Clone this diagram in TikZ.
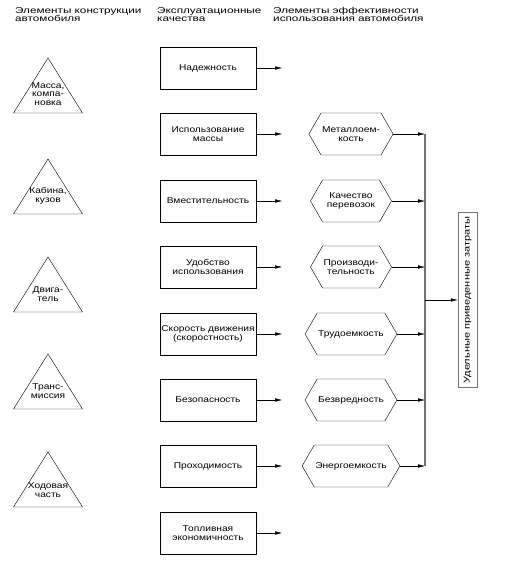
\documentclass[tikz,border=0pt]{standalone}
\usepackage{fontspec}
\setmainfont{Liberation Sans}[FakeStretch=1.2]
\newfontfamily\headfont{Liberation Sans}[FakeStretch=1.38]
\newfontfamily\costfont{Liberation Sans}[FakeStretch=1.3]
\usepackage{xcolor}
\usetikzlibrary{shapes.symbols,arrows.meta}
\colorlet{linecolor}{black}
\colorlet{buscolor}{black!55}
\newcommand{\dfont}{\fontsize{8.5}{8.5}\selectfont}
\tikzstyle{heading} =[
    anchor=north west,
    align=left,
    inner sep=0pt,
    font=\headfont\dfont
    ]
\tikzstyle{quality} =[
    draw=linecolor,
    rectangle,
    minimum width=96pt,
    minimum height=42pt,
    align=center,
    inner sep=1pt,
    font=\dfont
    ]
\tikzstyle{effect} =[
    draw=linecolor,
    signal,
    signal to=west and east,
    signal pointer angle=120,
    minimum width=81pt,
    minimum height=42pt,
    align=center,
    inner sep=1pt,
    font=\dfont
    ]
\tikzstyle{part} =[
    align=center,
    inner sep=0pt,
    font=\dfont
    ]
\tikzstyle{costbox} =[
    draw=buscolor,
    rectangle,
    rotate=90,
    minimum width=175pt,
    minimum height=19pt,
    inner sep=1pt,
    font=\costfont\dfont
    ]
\tikzstyle{arr} =[
    draw=linecolor,
    -{Latex[length=7pt,width=3.5pt]}
    ]
\tikzstyle{bus} =[
    draw=buscolor,
    line width=1.2pt
    ]

\begin{document}
\begin{tikzpicture}[x=1pt,y=-1pt]
\useasboundingbox (0,0) rectangle (510,586);

\node[heading] (h1) at (15,7) {Элементы конструкции\\автомобиля};
\node[heading] (h2) at (157,7) {Эксплуатационные\\качества};
\node[heading] (h3) at (273,7) {Элементы эффективности\\использования автомобиля};

% elements of design
\node[part] (mass) at (48,94) {Масса,\\компа-\\новка};
\draw (48,58) -- (82.5,113) -- (13.5,113) -- cycle;
\node[part] (cab) at (48,196) {Кабина,\\кузов};
\draw (48,159) -- (82.5,214) -- (13.5,214) -- cycle;
\node[part] (engine) at (48,294) {Двига-\\тель};
\draw (48,257) -- (82.5,312) -- (13.5,312) -- cycle;
\node[part] (trans) at (48,391) {Транс-\\миссия};
\draw (48,354) -- (82.5,409) -- (13.5,409) -- cycle;
\node[part] (chassis) at (48,490) {Ходовая\\часть};
\draw (48,452) -- (82.5,507) -- (13.5,507) -- cycle;

% operating qualities
\node[quality] (reliab) at (208,68) {Надежность};
\node[quality] (massuse) at (208,134) {Использование\\массы};
\node[quality] (capac) at (208,201) {Вместительность};
\node[quality] (comfort) at (208,267) {Удобство\\использования};
\node[quality] (speed) at (208,334) {Скорость движения\\(скоростность)};
\node[quality] (safety) at (208,400) {Безопасность};
\node[quality] (offroad) at (208,466) {Проходимость};
\node[quality] (fuel) at (208,533) {Топливная\\экономичность};

\draw[arr] (reliab.east) -- ++(26,0);
\draw[arr] (massuse.east) -- ++(26,0);
\draw[arr] (capac.east) -- ++(26,0);
\draw[arr] (comfort.east) -- ++(26,0);
\draw[arr] (speed.east) -- ++(26,0);
\draw[arr] (safety.east) -- ++(26,0);
\draw[arr] (offroad.east) -- ++(26,0);
\draw[arr] (fuel.east) -- ++(26,0);

% efficiency elements
\node[effect] (metal) at (351,134) {Металлоем-\\кость};
\node[effect] (transq) at (351,201) {Качество\\перевозок};
\node[effect] (produc) at (351,267) {Производи-\\тельность};
\node[effect] (labour) at (351,334) {Трудоемкость};
\node[effect] (harm) at (351,400) {Безвредность};
\node[effect] (energy) at (351,466) {Энергоемкость};

\coordinate (bustop) at (425,134);
\coordinate (busbot) at (425,466);
\coordinate (busmid) at (425,300);
\draw[bus] (bustop) -- (busbot);

\draw[arr] (metal.east) -- (metal.east -| bustop);
\draw[arr] (transq.east) -- (transq.east -| bustop);
\draw[arr] (produc.east) -- (produc.east -| bustop);
\draw[arr] (labour.east) -- (labour.east -| bustop);
\draw[arr] (harm.east) -- (harm.east -| bustop);
\draw[arr] (energy.east) -- (energy.east -| bustop);

\node[costbox] (costs) at (467.5,300) {Удельные приведенные затраты};
\draw[arr] (busmid) -- (costs.north);
\end{tikzpicture}
\end{document}
